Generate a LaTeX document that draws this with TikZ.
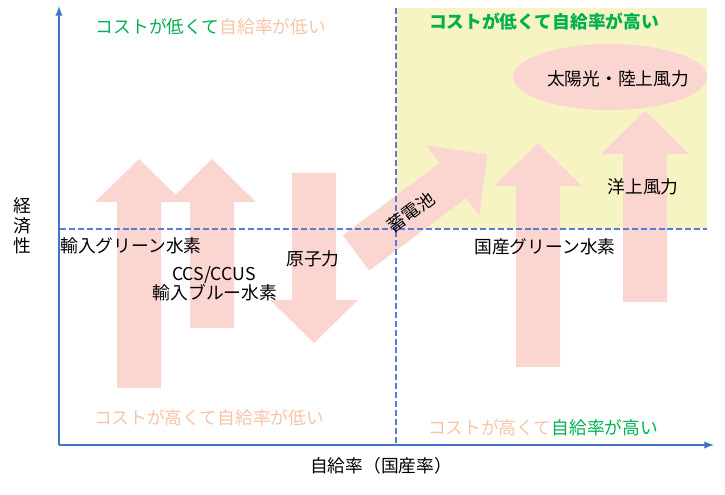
\documentclass[tikz,border=0pt]{standalone}
\usepackage{fontspec}
\setmainfont{Noto Sans CJK JP}
\usepackage{tikz}

\definecolor{axisblue}{RGB}{68,114,196}
\definecolor{dashblue}{RGB}{92,122,212}
\definecolor{arrowpink}{RGB}{251,214,209}
\definecolor{areayellow}{RGB}{246,244,194}
\definecolor{goodgreen}{RGB}{0,176,80}
\definecolor{badorange}{RGB}{248,196,166}

\begin{document}
\begin{tikzpicture}[x=0.75pt,y=-0.75pt,>=latex,
  lbl/.style={font=\fontsize{13.3}{15}\selectfont, inner sep=0pt},
  axis/.style={axisblue, line width=1.5pt},
  quad/.style={dashblue, line width=1.5pt, dash pattern=on 4.5pt off 2.2pt}]
\useasboundingbox (0,0) rectangle (725,495);
%best quadrant
\fill[areayellow] (396,8) rectangle (707,229);
\fill[arrowpink] (610,77) ellipse [x radius=72.75pt, y radius=24.75pt];
%upward arrows: centre x / tail y / tip y
\foreach \x/\b/\t in {139/388/159, 212/328/159, 538/367/143, 645/302/111}
{
  \fill[arrowpink] (\x-22,\b) -- (\x-22,\t+43) -- (\x-44,\t+43) -- (\x,\t)
    -- (\x+44,\t+43) -- (\x+22,\t+43) -- (\x+22,\b) -- cycle;
}
%downward arrow
\fill[arrowpink] (292,173) -- (292,300) -- (270,300) -- (314,343)
  -- (358,300) -- (336,300) -- (336,173) -- cycle;
%diagonal arrow
\begin{scope}[shift={(356,253)}, rotate=36.8]
  \fill[arrowpink] (0,-22) -- (121,-22) -- (121,-44) -- (164,0)
    -- (121,44) -- (121,22) -- (0,22) -- cycle;
\end{scope}
%quadrant lines
\draw[quad] (60,229) -- (707,229);
\draw[quad] (396,8) -- (396,445);
%axes
\draw[axis,->] (59,445) -- (59,6);
\draw[axis,->] (59,445) -- (714,445);
%quadrant labels
\node[lbl] (lowlow) at (211,27)
  {\textcolor{goodgreen}{コストが低くて}\textcolor{badorange}{自給率が低い}};
\node[lbl, text=goodgreen] (lowhigh) at (544,22) {\textbf{コストが低くて自給率が高い}};
\node[lbl, text=badorange] (highlow) at (209,418) {コストが高くて自給率が低い};
\node[lbl] (highhigh) at (543,428)
  {\textcolor{badorange}{コストが高くて}\textcolor{goodgreen}{自給率が高い}};
%technologies
\node[lbl] (imgreen) at (131,246) {輸入グリーン水素};
\node[lbl] (ccs) at (214,275) {CCS/CCUS};
\node[lbl] (imblue) at (215,293) {輸入ブルー水素};
\node[lbl] (nuclear) at (313,259) {原子力};
\node[lbl, rotate=36.8] (battery) at (411,212) {蓄電池};
\node[lbl] (domgreen) at (545,247) {国産グリーン水素};
\node[lbl] (offshore) at (643,187) {洋上風力};
\node[lbl] (solar) at (618,79) {太陽光・陸上風力};
%axis titles
\node[lbl] (xlabel) at (381,466) {自給率（国産率）};
\node[lbl, align=center] (ylabel) at (22,226) {経\\済\\性};
\end{tikzpicture}
\end{document}
